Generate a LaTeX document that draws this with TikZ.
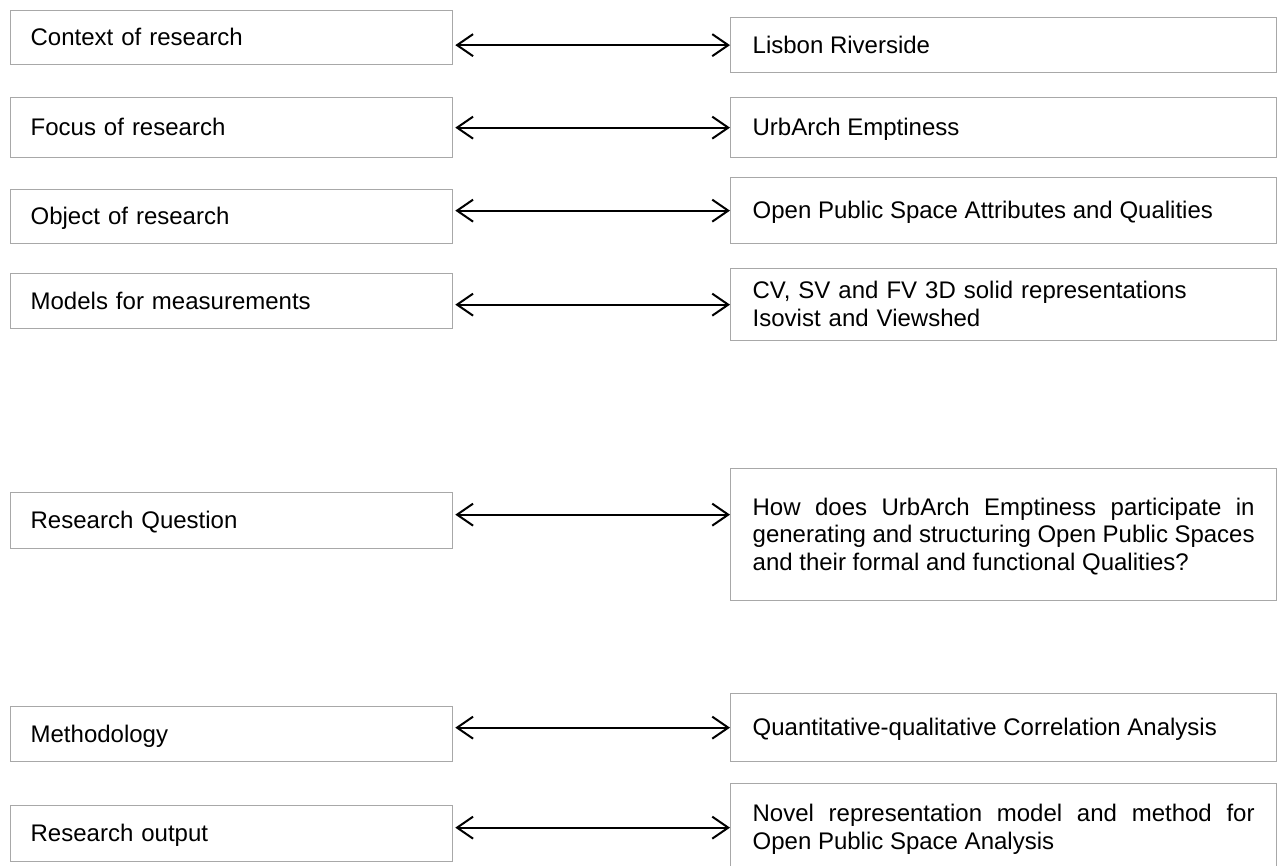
\documentclass[tikz,border=0pt]{standalone}
\usepackage{fontspec}
\setmainfont{Liberation Sans}
\usetikzlibrary{arrows.meta}
\definecolor{boxline}{RGB}{168,168,168}
\tikzset{
  x=1pt, y=-1pt,
  box/.style={draw=boxline, line width=1.3pt, rectangle, anchor=north west,
    inner ysep=0pt, font=\fontsize{24}{27.6}\selectfont,
    execute at begin node={\rule{0pt}{21.6pt}},
    execute at end node={\rule[-5.6pt]{0pt}{5.6pt}}},
  leftbox/.style={box, inner xsep=20pt, text width=402pt, align=left},
  rightbox/.style={box, inner xsep=22pt, text width=502pt, align=justify},
  link/.style={line width=2pt, {Straight Barb[length=16pt,width=22pt]}-{Straight Barb[length=16pt,width=22pt]}}
}
\begin{document}
\begin{tikzpicture}
\clip (0,0) rectangle (1279,866);
\fill[white] (0,0) rectangle (1279,866);

% left column: aspects of the research
\node[leftbox, minimum height=54pt] (L1) at (10,10)  {Context of research};
\node[leftbox, minimum height=60pt] (L2) at (10,97)  {Focus of research};
\node[leftbox, minimum height=54pt] (L3) at (10,189) {Object of research};
\node[leftbox, minimum height=55pt] (L4) at (10,273) {Models for measurements};
\node[leftbox, minimum height=56pt] (L5) at (10,492) {Research Question};
\node[leftbox, minimum height=55pt] (L6) at (10,706) {Methodology};
\node[leftbox, minimum height=56pt] (L7) at (10,805) {Research output};

% right column: the corresponding content
\node[rightbox, minimum height=55pt] (R1) at (730,17)  {Lisbon Riverside};
\node[rightbox, minimum height=60pt] (R2) at (730,97)  {UrbArch Emptiness};
\node[rightbox, minimum height=66pt] (R3) at (730,177) {Open Public Space Attributes and Qualities};
\node[rightbox, minimum height=72pt, align=left] (R4) at (730,268) {CV, SV and FV 3D solid representations\\Isovist and Viewshed};
\node[rightbox, minimum height=132pt] (R5) at (730,468) {How does UrbArch Emptiness participate in generating and structuring Open Public Spaces and their formal and functional Qualities?};
\node[rightbox, minimum height=68pt] (R6) at (730,693) {Quantitative-qualitative Correlation Analysis};
\node[rightbox, minimum height=88pt] (R7) at (730,783) {Novel representation model and method for Open Public Space Analysis};

% two-way connectors
\draw[link] ([xshift=2pt]R1.west -| L1.east) -- (R1.west);
\draw[link] ([xshift=2pt]R2.west -| L2.east) -- (R2.west);
\draw[link] ([xshift=2pt]R3.west -| L3.east) -- (R3.west);
\draw[link] ([xshift=2pt]R4.west -| L4.east) -- (R4.west);
\draw[link] ([shift={(2pt,6pt)}]L5.east) -- ([yshift=6pt]L5.east -| R5.west);
\draw[link] ([xshift=2pt]R6.west -| L6.east) -- (R6.west);
\draw[link] ([xshift=2pt]R7.west -| L7.east) -- (R7.west);
\end{tikzpicture}
\end{document}
